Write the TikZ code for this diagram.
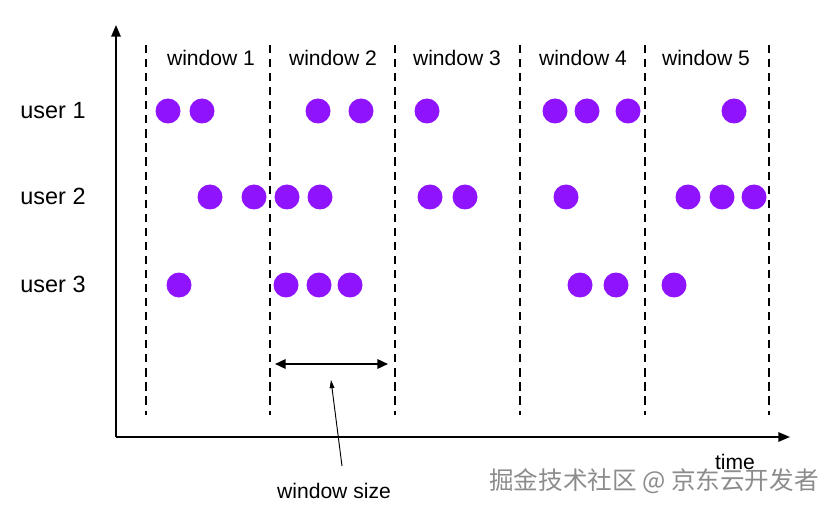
\documentclass[tikz,border=0pt]{standalone}
\usepackage{fontspec}
\setmainfont{Liberation Sans}
\newfontfamily\cjk{Noto Sans CJK SC}
\usetikzlibrary{arrows.meta}
\definecolor{dotpurple}{RGB}{144,19,254}
\tikzset{
  axis/.style={line width=1.6pt, -{Triangle[length=10pt,width=8pt]}},
  winline/.style={line width=1.4pt, dash pattern=on 7pt off 5pt},
  event/.style={fill=dotpurple},
  label/.style={font=\fontsize{18}{20}\selectfont, text height=1.6ex, text depth=0.3ex},
  userlabel/.style={font=\fontsize{20}{22}\selectfont, text height=1.6ex, text depth=0.3ex}
}
\begin{document}
\begin{tikzpicture}[x=0.03cm, y=-0.03cm]
  \useasboundingbox (0,0) rectangle (832,510);
  % ejes
  \coordinate (origin) at (116,437);
  \coordinate (ytip) at (116,25);
  \coordinate (xtip) at (790,437);
  \draw[axis] (origin) -- (ytip);
  \draw[axis] (origin) -- (xtip);
  \node[label] (time) at (735,465) {time};
  % ventanas
  \draw[winline] (146,45) -- (146,415);
  \draw[winline] (270,45) -- (270,415);
  \draw[winline] (395,45) -- (395,415);
  \draw[winline] (520,45) -- (520,415);
  \draw[winline] (645,45) -- (645,415);
  \draw[winline] (769,45) -- (769,415);
  \node[label] (win1) at (211,61) {window 1};
  \node[label] (win2) at (333,61) {window 2};
  \node[label] (win3) at (457,61) {window 3};
  \node[label] (win4) at (583,61) {window 4};
  \node[label] (win5) at (706,61) {window 5};
  % usuarios
  \node[userlabel] (user1) at (53,114) {user 1};
  \node[userlabel] (user2) at (53,200) {user 2};
  \node[userlabel] (user3) at (53,288) {user 3};
  % eventos
  \foreach \x in {168,202,318,361,427,555,587,628,734}
    \fill[event] (\x,111) circle (12.5);
  \foreach \x in {210,254,287,320,430,465,566,688,722,754}
    \fill[event] (\x,197) circle (12.5);
  \foreach \x in {179,286,319,350,580,616,674}
    \fill[event] (\x,285) circle (12.5);
  % window size
  \coordinate (wsl) at (275,364);
  \coordinate (wsr) at (388,364);
  \draw[line width=1.6pt, {Triangle[length=9pt,width=8pt]}-{Triangle[length=9pt,width=8pt]}] (wsl) -- (wsr);
  \node[label] (wsize) at (334,494) {window size};
  \coordinate (wsfoot) at (342,466);
  \coordinate (wshead) at (331,380);
  \draw[line width=0.8pt, -{Triangle[length=7pt,width=4pt]}] (wsfoot) -- (wshead);
  % marca de agua
  \node[text=black!45, font=\cjk\fontsize{21}{23}\selectfont] (mark) at (654,481) {掘金技术社区 @ 京东云开发者};
\end{tikzpicture}
\end{document}
